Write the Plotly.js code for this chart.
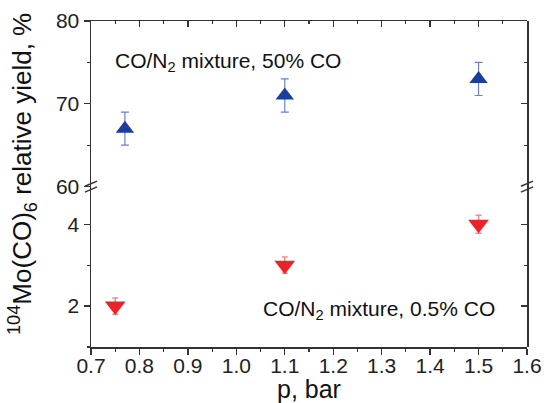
<!DOCTYPE html>
<html>
<head>
<meta charset="utf-8">
<script src="https://cdn.plot.ly/plotly-3.0.1.min.js"></script>
<style>html,body{margin:0;padding:0;background:#fff}#chart{width:544px;height:403px}</style>
</head>
<body>
<div id="chart"></div>
<script>
// Data
const pHigh = [0.77, 1.1, 1.5];
const yieldHigh = [67, 71, 73];
const errHigh = [2, 2, 2];
const pLow = [0.75, 1.1, 1.5];
const yieldLow = [2, 3, 4];
const errLow = [0.2, 0.2, 0.22];
const labelHigh = 'CO/N<sub>2</sub> mixture, 50% CO';
const labelLow = 'CO/N<sub>2</sub> mixture, 0.5% CO';
const xTitle = 'p, bar';
const yTitle = '<sup>104</sup>Mo(CO)<sub>6</sub> relative yield, %';

const FONT = 'Arial, "Liberation Sans", sans-serif';
const AX = '#333333';
const split = 0.492;

const traces = [
  {
    x: pHigh, y: yieldHigh, xaxis: 'x', yaxis: 'y2', type: 'scatter', mode: 'markers',
    marker: {symbol: 'triangle-up', size: 16, color: '#1c3d9e'},
    error_y: {type: 'data', array: errHigh, visible: true, color: '#6a80cc', thickness: 1.2, width: 4},
    showlegend: false, hoverinfo: 'skip'
  },
  {
    x: pLow, y: yieldLow, xaxis: 'x', yaxis: 'y', type: 'scatter', mode: 'markers',
    marker: {symbol: 'triangle-down', size: 18, color: '#e8232a'},
    error_y: {type: 'data', array: errLow, visible: true, color: '#f08a8a', thickness: 1.5, width: 3},
    showlegend: false, hoverinfo: 'skip'
  },
  // empty traces so the mirror axes (top / right) are drawn
  {x: [], y: [], xaxis: 'x2', yaxis: 'y2', type: 'scatter', mode: 'markers', showlegend: false, hoverinfo: 'skip'},
  {x: [], y: [], xaxis: 'x', yaxis: 'y3', type: 'scatter', mode: 'markers', showlegend: false, hoverinfo: 'skip'},
  {x: [], y: [], xaxis: 'x', yaxis: 'y4', type: 'scatter', mode: 'markers', showlegend: false, hoverinfo: 'skip'}
];

const tickFont = {family: FONT, size: 21, color: '#222'};
const common = {showline: true, linecolor: AX, linewidth: 1.5, showgrid: false, zeroline: false,
  tickcolor: AX, tickwidth: 1.3, ticklen: 6, tickfont: tickFont, fixedrange: true};

const layout = {
  width: 544, height: 403,
  margin: {l: 91, r: 17, t: 21, b: 56},
  paper_bgcolor: '#ffffff', plot_bgcolor: 'rgba(0,0,0,0)',
  showlegend: false,
  xaxis: Object.assign({}, common, {
    domain: [0, 1], anchor: 'y', range: [0.7, 1.6], dtick: 0.1, tick0: 0.7, tickformat: '.1f',
    ticks: 'outside', ticklabelstandoff: -7,
    minor: {dtick: 0.05, ticks: 'outside', ticklen: 3, tickcolor: AX, tickwidth: 1.2}
  }),
  xaxis2: Object.assign({}, common, {
    domain: [0, 1], anchor: 'y2', side: 'top', range: [0.7, 1.6], dtick: 0.1, tick0: 0.7,
    showticklabels: false, ticks: 'inside',
    minor: {dtick: 0.05, ticks: 'inside', ticklen: 3, tickcolor: AX, tickwidth: 1.2}
  }),
  yaxis: Object.assign({}, common, {
    domain: [0, split], anchor: 'x', range: [1.0, 4.92], dtick: 2, tick0: 0,
    ticks: 'outside', minor: {dtick: 1, ticks: 'outside', ticklen: 3, tickcolor: AX, tickwidth: 1.2}
  }),
  yaxis2: Object.assign({}, common, {
    domain: [split, 1], anchor: 'x', range: [60, 80], dtick: 10, tick0: 0,
    ticks: 'outside', minor: {dtick: 5, ticks: 'outside', ticklen: 3, tickcolor: AX, tickwidth: 1.2}
  }),
  yaxis3: Object.assign({}, common, {
    domain: [0, split], anchor: 'x', side: 'right', range: [1.0, 4.92], dtick: 2, tick0: 0,
    showticklabels: false, ticks: 'inside',
    minor: {dtick: 1, ticks: 'inside', ticklen: 3, tickcolor: AX, tickwidth: 1.2}
  }),
  yaxis4: Object.assign({}, common, {
    domain: [split, 1], anchor: 'x', side: 'right', range: [60, 80], dtick: 10, tick0: 0,
    showticklabels: false, ticks: 'inside',
    minor: {dtick: 5, ticks: 'inside', ticklen: 3, tickcolor: AX, tickwidth: 1.2}
  }),
  annotations: [
    {text: labelHigh, xref: 'paper', yref: 'paper', x: 0.05, y: 0.873, xanchor: 'left', yanchor: 'middle',
     showarrow: false, font: {family: FONT, size: 21, color: '#111'}},
    {text: labelLow, xref: 'paper', yref: 'paper', x: 0.931, y: 0.113, xanchor: 'right', yanchor: 'middle',
     showarrow: false, font: {family: FONT, size: 21, color: '#111'}},
    {text: yTitle, xref: 'paper', yref: 'paper', x: -0.158, y: 0.531, xanchor: 'center', yanchor: 'middle',
     textangle: -90, showarrow: false, font: {family: FONT, size: 26, color: '#111'}},
    {text: xTitle, xref: 'paper', yref: 'paper', x: 0.5, y: -0.128, xanchor: 'center', yanchor: 'middle',
     showarrow: false, font: {family: FONT, size: 25, color: '#111'}}
  ],
  shapes: []
};

// break marks on both vertical axes
[0, 1].forEach(function (xp) {
  [-0.009, 0.009].forEach(function (dy) {
    layout.shapes.push({type: 'line', xref: 'paper', yref: 'paper',
      x0: xp - 0.014, x1: xp + 0.014, y0: split + dy - 0.008, y1: split + dy + 0.008,
      line: {color: AX, width: 1.5}});
  });
});

Plotly.newPlot('chart', traces, layout, {displayModeBar: false, staticPlot: true});
</script>
</body>
</html>
